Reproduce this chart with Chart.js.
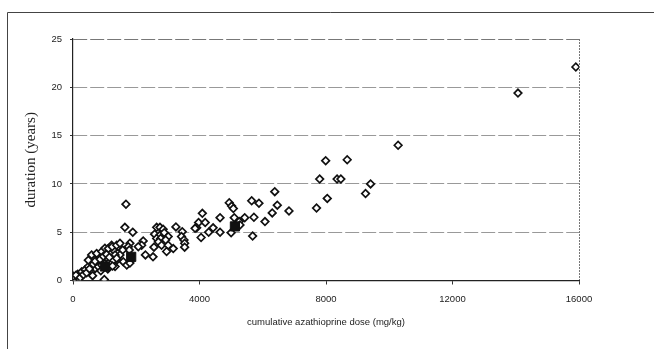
<!DOCTYPE html>
<html>
<head>
<meta charset="utf-8">
<script src="https://cdn.jsdelivr.net/npm/chart.js@4.4.1/dist/chart.umd.min.js"></script>
<style>
  html, body { margin: 0; padding: 0; background: #fff; }
  #wrap { position: relative; width: 654px; height: 349px; }
</style>
</head>
<body>
<div id="wrap"><canvas id="myChart" width="654" height="349"></canvas></div>
<script>
// tick labels
var xTicks = [0, 4000, 8000, 12000, 16000];
var yTicks = [0, 5, 10, 15, 20, 25];

// individual patients: cumulative dose (mg/kg) and duration (years)
var doseValues = [
    15900, 14070, 10280, 7990, 8670, 7800, 8350, 8470, 9410, 9250, 8040, 7700,
    6380, 5650, 5880, 6460, 6300, 6830, 5720, 6070,
    4940, 5015, 5070, 4090, 4650, 5100, 5430, 5255, 5280, 3970, 3910, 3860, 4180, 4430, 4290, 4650, 5000, 4050, 5680,
    3455, 3430, 3510, 3530, 3530,
    1675, 1640, 1890, 2645, 2750, 2850, 3255, 2580, 2750, 2885, 3010, 2645, 2770, 2930, 2700, 2800, 3010, 3170, 2960,
    2220, 2170, 2065, 2560, 2290, 2530, 1800, 1750, 1780, 1430, 1570, 1485, 1590, 1700, 1800, 1220, 1275, 1330, 1380, 1330,
    0, 990, 150, 275, 170, 380, 485, 485, 590, 750, 910, 1010, 1115, 1240, 1380, 1485,
    590, 700, 800, 910, 1010, 1170, 1275, 1380, 10, 95, 230, 330, 430, 520, 640, 700, 860, 960, 1060, 1150, 1100, 1250, 880, 620
];
var durationValues = [
    22.1, 19.4, 14.0, 12.4, 12.5, 10.5, 10.5, 10.5, 10.0, 9.0, 8.5, 7.5,
    9.2, 8.25, 8.0, 7.8, 7.0, 7.2, 6.55, 6.1,
    8.05, 7.7, 7.45, 6.95, 6.5, 6.5, 6.5, 6.1, 5.75, 6.0, 5.45, 5.4, 6.0, 5.45, 5.0, 5.0, 4.95, 4.45, 4.6,
    5.05, 4.55, 4.2, 3.85, 3.45,
    7.9, 5.5, 5.0, 5.5, 5.5, 5.3, 5.55, 4.8, 4.7, 4.95, 4.55, 4.35, 4.35, 4.2, 4.0, 3.65, 3.65, 3.3, 3.0,
    4.1, 3.65, 3.5, 3.45, 2.65, 2.45, 3.85, 3.5, 3.15, 3.5, 3.15, 2.65, 1.95, 1.6, 1.8, 3.65, 3.15, 2.65, 2.1, 1.45,
    0.05, 0.1, 0.65, 0.9, 0.25, 1.1, 1.45, 2.1, 2.65, 2.8, 3.0, 3.35, 3.3, 3.5, 3.65, 3.85,
    0.9, 1.25, 1.45, 1.6, 1.75, 1.95, 2.1, 2.3, 0.45, 0.55, 0.3, 0.6, 0.8, 1.2, 1.7, 2.0, 2.2, 2.5, 2.7, 2.4, 1.2, 1.5, 1.0, 0.5
];

// group means (filled squares)
var meanDose = [1010, 1840, 5120];
var meanDuration = [1.45, 2.45, 5.6];

var patientPoints = doseValues.map(function (d, i) { return { x: d, y: durationValues[i] }; });
var meanPoints = meanDose.map(function (d, i) { return { x: d, y: meanDuration[i] }; });

// outer frame lines (top and left edge of the figure box)
var framePlugin = {
    id: 'frame',
    beforeDraw: function (chart) {
        var ctx = chart.ctx;
        ctx.save();
        ctx.strokeStyle = '#444';
        ctx.lineWidth = 1;
        ctx.beginPath();
        ctx.moveTo(7.5, 349);
        ctx.lineTo(7.5, 12.5);
        ctx.lineTo(654, 12.5);
        ctx.stroke();
        ctx.restore();
    }
};

var ctx = document.getElementById('myChart').getContext('2d');
var myChart = new Chart(ctx, {
    type: 'scatter',
    data: {
        datasets: [{
            label: 'mean',
            data: meanPoints,
            pointStyle: 'rect',
            pointRadius: 6.5,
            pointHoverRadius: 6.5,
            backgroundColor: '#111',
            borderColor: '#111',
            borderWidth: 1
        }, {
            label: 'patients',
            data: patientPoints,
            pointStyle: 'rectRot',
            pointRadius: 3.8,
            pointHoverRadius: 3.8,
            backgroundColor: '#fff',
            borderColor: '#111',
            borderWidth: 1.7
        }]
    },
    options: {
        responsive: false,
        animation: false,
        layout: { padding: { left: 0, top: 39, right: 75, bottom: 0 } },
        plugins: {
            legend: { display: false },
            tooltip: { enabled: false }
        },
        scales: {
            x: {
                type: 'linear',
                min: 0,
                max: 16000,
                afterBuildTicks: function (scale) {
                    scale.ticks = xTicks.map(function (v) { return { value: v }; });
                },
                afterFit: function (scale) { scale.height = 68.5; },
                ticks: {
                    color: '#222',
                    font: { family: 'Liberation Sans', size: 9.5 },
                    padding: 9,
                    maxRotation: 0,
                    callback: function (value) { return String(value); }
                },
                grid: {
                    color: function (c) { return c.tick && c.tick.value === 16000 ? '#777' : 'rgba(0,0,0,0)'; },
                    tickColor: '#333',
                    tickLength: 4,
                    lineWidth: 1
                },
                border: { color: '#222', width: 1.2, dash: [2, 1] },
                title: {
                    display: true,
                    text: 'cumulative azathioprine dose (mg/kg)',
                    color: '#222',
                    font: { family: 'Liberation Sans', size: 9.5 },
                    padding: { top: 0, bottom: 21 },
                    align: 'center'
                }
            },
            y: {
                type: 'linear',
                min: 0,
                max: 25,
                afterBuildTicks: function (scale) {
                    scale.ticks = yTicks.map(function (v) { return { value: v }; });
                },
                afterFit: function (scale) { scale.width = 73; },
                ticks: {
                    color: '#222',
                    font: { family: 'Liberation Sans', size: 9.5 },
                    padding: 8
                },
                grid: {
                    color: function (c) {
                        if (!c.tick) return 'rgba(0,0,0,0)';
                        if (c.tick.value === 0) return 'rgba(0,0,0,0)';
                        if (c.tick.value === 25) return '#777';
                        return '#999';
                    },
                    tickColor: '#333',
                    tickLength: 3,
                    lineWidth: 1
                },
                border: { color: '#222', width: 1.2, dash: [14, 3] },
                title: {
                    display: true,
                    text: 'duration (years)',
                    color: '#222',
                    font: { family: 'Liberation Serif', size: 15 },
                    padding: { top: 22, bottom: 0 }
                }
            }
        }
    },
    plugins: [framePlugin]
});
</script>
</body>
</html>
